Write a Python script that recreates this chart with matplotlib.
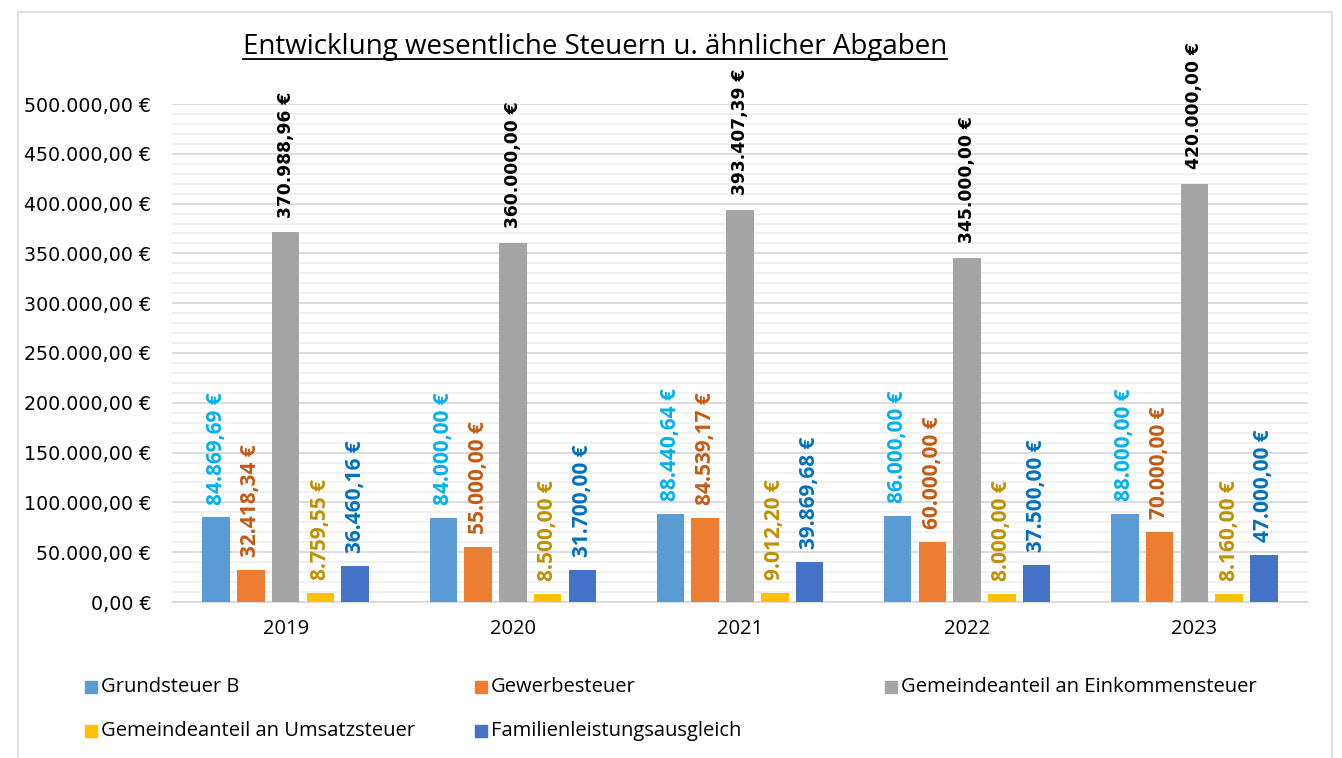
import numpy as np
import matplotlib.pyplot as plt
from matplotlib.patches import Rectangle
from matplotlib.lines import Line2D
from matplotlib.ticker import MultipleLocator, FuncFormatter

years = ["2019", "2020", "2021", "2022", "2023"]
series_names = ["Grundsteuer B", "Gewerbesteuer", "Gemeindeanteil an Einkommensteuer",
                "Gemeindeanteil an Umsatzsteuer", "Familienleistungsausgleich"]
grundsteuer_b = [84869.69, 84000.00, 88440.64, 86000.00, 88000.00]
gewerbesteuer = [32418.34, 55000.00, 84539.17, 60000.00, 70000.00]
einkommensteuer = [370988.96, 360000.00, 393407.39, 345000.00, 420000.00]
umsatzsteuer = [8759.55, 8500.00, 9012.20, 8000.00, 8160.00]
familienleistung = [36460.16, 31700.00, 39869.68, 37500.00, 47000.00]

bar_colors = ["#5B9BD5", "#ED7D31", "#A5A5A5", "#FFC000", "#4472C4"]
label_colors = ["#00B0F0", "#C55A11", "#000000", "#BF9000", "#0070C0"]


def euro(v):
    s = f"{v:,.2f}"
    s = s.replace(",", "X").replace(".", ",").replace("X", ".")
    return s + " €"


fig = plt.figure(figsize=(13.42, 7.58), dpi=100)
ax = fig.add_axes([172 / 1342, 1 - 602 / 758, 1136 / 1342, 498 / 758])

# chart border
fig.patches.append(Rectangle((18 / 1342, -0.01), 1314 / 1342, 1 - 12 / 758 + 0.01,
                             transform=fig.transFigure, fill=False,
                             edgecolor="#D9D9D9", lw=1.2))

data = [grundsteuer_b, gewerbesteuer, einkommensteuer, umsatzsteuer, familienleistung]
x = np.arange(len(years))
width = 0.121
step = 0.153
for i, vals in enumerate(data):
    off = (i - 2) * step
    ax.bar(x + off, vals, width, color=bar_colors[i], zorder=3)
    for xi, v in zip(x, vals):
        if i == 2:
            ax.text(xi + off, v + 15000, euro(v), rotation=90, ha="center", va="bottom",
                    fontsize=12.3, fontweight="bold", color=label_colors[i],
                    family="DejaVu Sans")
        else:
            ax.text(xi + off, v + 13000, euro(v), rotation=90, ha="center", va="bottom",
                    fontsize=15, fontweight="bold", color=label_colors[i],
                    family="Open Sans")

ax.set_xlim(-0.5, 4.5)
ax.set_ylim(0, 500000)
ax.yaxis.set_major_locator(MultipleLocator(50000))
ax.yaxis.set_minor_locator(MultipleLocator(10000))
ax.yaxis.set_major_formatter(FuncFormatter(lambda v, p: euro(v)))
ax.grid(axis="y", which="major", color="#D9D9D9", lw=1.3, zorder=0)
ax.grid(axis="y", which="minor", color="#F0F0F0", lw=1.3, zorder=0)
ax.set_xticks(x)
ax.set_xticklabels(years, fontsize=14.5, family="Open Sans")
ax.tick_params(axis="y", labelsize=13.7, length=0, which="both", pad=15)
ax.tick_params(axis="x", length=0, pad=12)
for s in ["top", "right", "left"]:
    ax.spines[s].set_visible(False)
ax.spines["bottom"].set_color("#D9D9D9")
ax.spines["bottom"].set_linewidth(1.3)

# title with underline
title = fig.text(595 / 1342, 1 - 47 / 758, "Entwicklung wesentliche Steuern u. ähnlicher Abgaben",
                 ha="center", va="center", fontsize=20, family="Open Sans")
fig.canvas.draw()
bb = title.get_window_extent().transformed(fig.transFigure.inverted())
fig.add_artist(Line2D([bb.x0, bb.x1], [bb.y0 + 0.002, bb.y0 + 0.002],
                      transform=fig.transFigure, color="black", lw=1.3))

# legend
leg_pos = [(85, 687), (475, 687), (885, 687), (85, 731), (475, 731)]
for name, c, (lx, ly) in zip(series_names, bar_colors, leg_pos):
    fig.patches.append(Rectangle((lx / 1342, 1 - (ly + 6) / 758), 12 / 1342, 12 / 758,
                                 transform=fig.transFigure, color=c))
    fig.text((lx + 16) / 1342, 1 - ly / 758, name, ha="left", va="center",
             fontsize=14.5, family="Open Sans")

fig.savefig("out.png", dpi=100)
